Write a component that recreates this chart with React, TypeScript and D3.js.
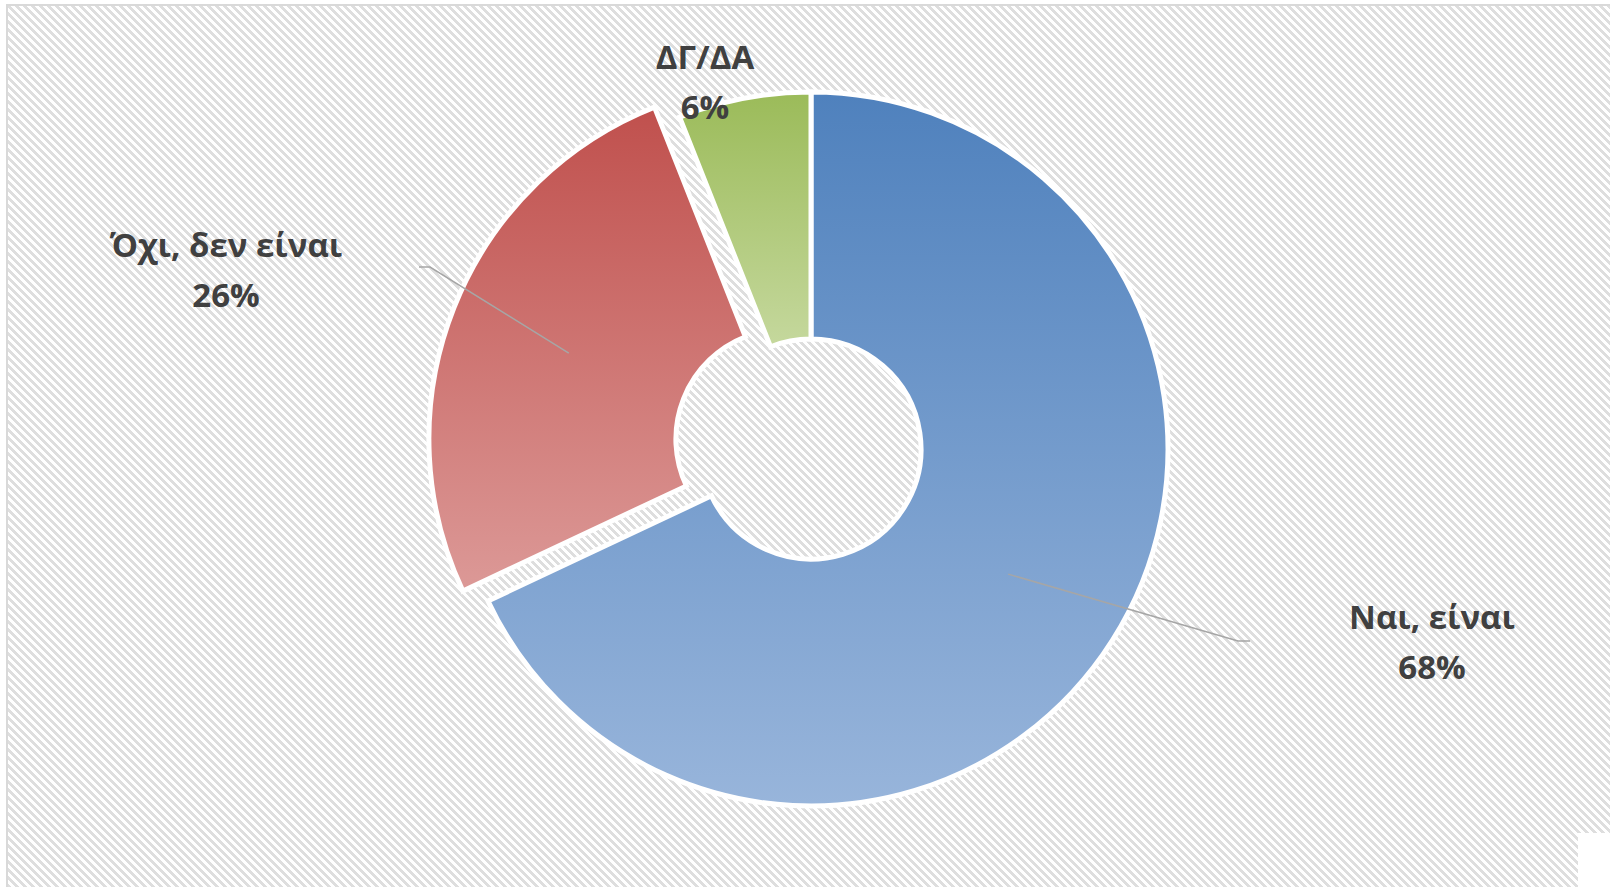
import React from "react";
import * as d3 from "d3";

const categories = ["Ναι, είναι", "Όχι, δεν είναι", "ΔΓ/ΔΑ"];
const values = [68, 26, 6];
const percentLabels = ["68%", "26%", "6%"];

const colorTop = ["#4f81bd", "#c0504d", "#9bbb59"];
const colorBottom = ["#98b5db", "#dc9997", "#c5d89d"];
const explode = [0, 27, 0];

const W = 1610;
const H = 887;
const cx = 811;
const cy = 449;
const rOuter = 357;
const rInner = 110;

// label layout: [centerX, firstBaseline]
const labelPos: [number, number][] = [
  [1432, 629],
  [226, 257],
  [705, 69],
];
// leader elbows: [elbowX, elbowY, endX] (null = no leader)
const leaders: ([number, number, number] | null)[] = [
  [1238, 641, 1250],
  [430, 267, 419],
  null,
];

export default function App() {
  const pie = d3
    .pie<number>()
    .sort(null)
    .value((d) => d)
    .startAngle(0)
    .endAngle(2 * Math.PI);
  const arcs = pie(values);
  const arc = d3.arc<d3.PieArcDatum<number>>().innerRadius(rInner).outerRadius(rOuter);

  return (
    <div style={{ position: "absolute", left: 0, top: 0, width: W, height: H, overflow: "hidden" }}>
      <svg width={W} height={H} style={{ display: "block" }}>
        <defs>
          <pattern id="diag" width={8} height={8} patternUnits="userSpaceOnUse">
            <rect width={8} height={8} fill="#ffffff" />
            <path d="M0,0 L4,0 L8,4 L8,8 Z M0,4 L4,8 L0,8 Z" fill="#dedede" shapeRendering="crispEdges" />
          </pattern>
          {arcs.map((a, i) => (
            <linearGradient key={i} id={`g${i}`} x1="0" y1="0" x2="0" y2="1">
              <stop offset="0" stopColor={colorTop[i]} />
              <stop offset="1" stopColor={colorBottom[i]} />
            </linearGradient>
          ))}
        </defs>
        <rect x={0} y={0} width={W} height={H} fill="#ffffff" />
        <rect x={7} y={5} width={W + 100} height={H + 100} fill="url(#diag)" stroke="#d9d9d9" strokeWidth={2} />
        <g transform={`translate(${cx},${cy})`}>
          {arcs.map((a, i) => {
            const mid = (a.startAngle + a.endAngle) / 2;
            const dx = Math.sin(mid) * explode[i];
            const dy = -Math.cos(mid) * explode[i];
            return (
              <path
                key={i}
                d={arc(a) || ""}
                transform={`translate(${dx},${dy})`}
                fill={`url(#g${i})`}
                stroke="#ffffff"
                strokeWidth={5}
                strokeLinejoin="miter"
              />
            );
          })}
        </g>
        {arcs.map((a, i) => {
          const l = leaders[i];
          if (!l) return null;
          const mid = (a.startAngle + a.endAngle) / 2;
          const [ccx, ccy] = arc.centroid(a);
          const sx = cx + ccx + Math.sin(mid) * explode[i];
          const sy = cy + ccy - Math.cos(mid) * explode[i];
          return (
            <path
              key={`l${i}`}
              d={`M${sx},${sy} L${l[0]},${l[1]} L${l[2]},${l[1]}`}
              fill="none"
              stroke="#a6a6a6"
              strokeWidth={1.5}
            />
          );
        })}
        {categories.map((c, i) => (
          <text
            key={`t${i}`}
            x={labelPos[i][0]}
            y={labelPos[i][1]}
            textAnchor="middle"
            fontFamily="'Open Sans', sans-serif"
            fontWeight="bold"
            fontSize={33}
            fill="#404040"
          >
            <tspan x={labelPos[i][0]} y={labelPos[i][1]}>{c}</tspan>
            <tspan x={labelPos[i][0]} y={labelPos[i][1] + 50}>{percentLabels[i]}</tspan>
          </text>
        ))}
        <rect x={1578} y={833} width={40} height={60} fill="#ffffff" />
      </svg>
    </div>
  );
}
